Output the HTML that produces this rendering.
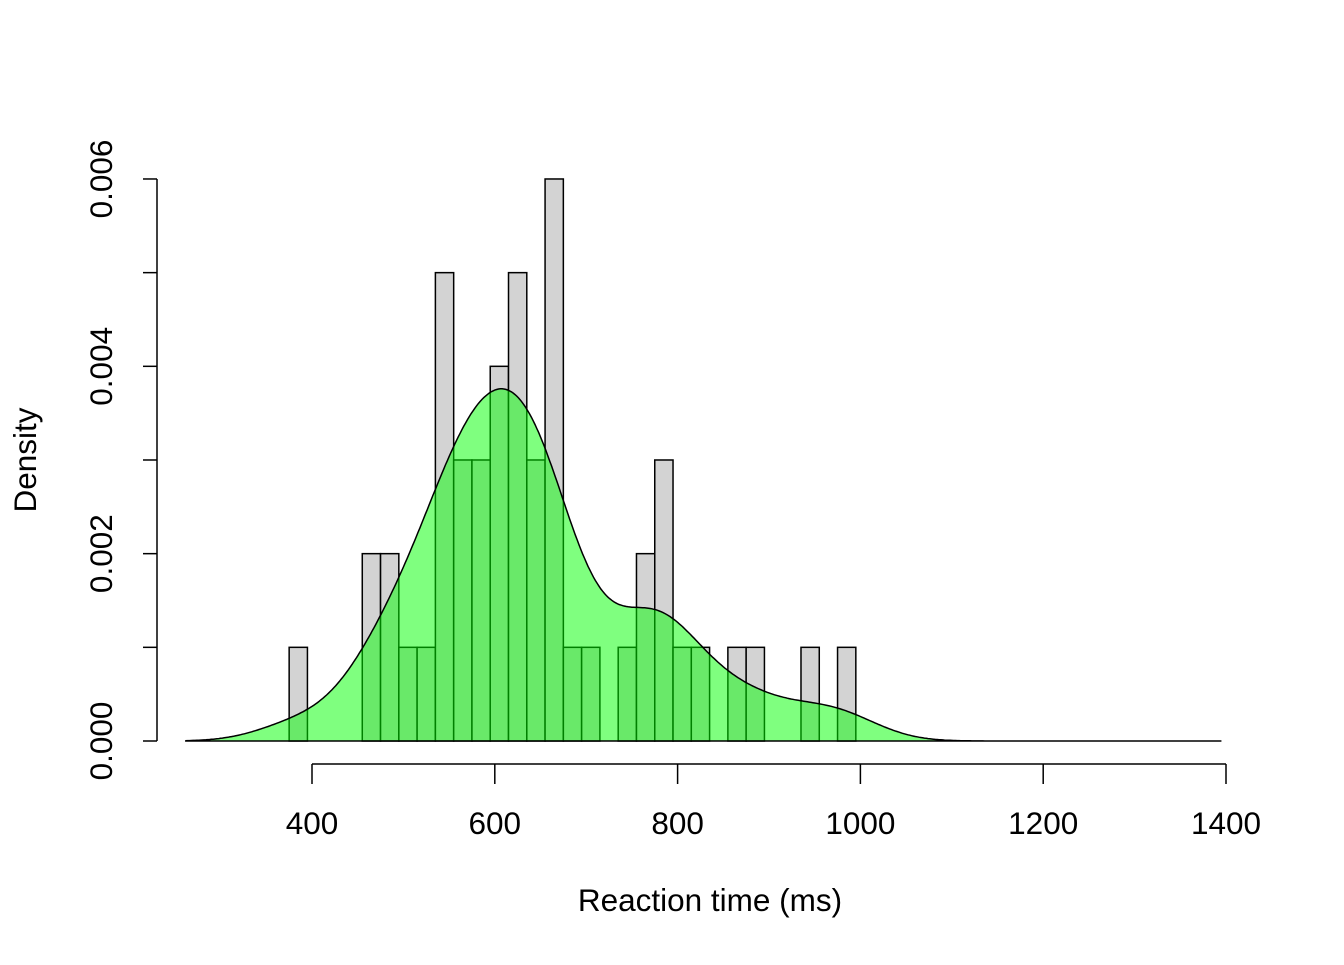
<!DOCTYPE html>
<html><head><meta charset="utf-8"><style>
html,body{margin:0;padding:0;background:#fff;}
svg text{font-family:"Liberation Sans",Arial,sans-serif;font-size:31.5px;fill:#000;}
</style></head><body>
<svg id="s" width="1344" height="960" xmlns="http://www.w3.org/2000/svg">
<g id="bars"></g>
<path id="dens" fill="rgba(0,255,0,0.5)" stroke="#000" stroke-width="1.5"/>
<g stroke="#000" stroke-width="1.5" fill="none">
<line x1="157" y1="179" x2="157" y2="741"/>
<line x1="312" y1="764" x2="1226" y2="764"/>
</g>
<g id="ticks" stroke="#000" stroke-width="1.5"></g>
<g id="labels"></g>
<text x="710" y="911" text-anchor="middle">Reaction time (ms)</text>
<text transform="translate(36,460) rotate(-90)" text-anchor="middle">Density</text>
</svg>
<script>
var X=function(v){return 312+(v-400)*0.914;};
var Y=function(d){return 741-d*93670;};
var counts={375:1,455:2,475:2,495:1,515:1,535:5,555:3,575:3,595:4,615:5,635:3,655:6,675:1,695:1,735:1,755:2,775:3,795:1,815:1,855:1,875:1,935:1,975:1};
var NS="http://www.w3.org/2000/svg",bars=document.getElementById('bars'),data=[];
for(var k in counts){var a=+k,c=counts[k];
 var r=document.createElementNS(NS,'rect');
 r.setAttribute('x',X(a));r.setAttribute('width',X(a+20)-X(a));
 r.setAttribute('y',Y(c*0.001));r.setAttribute('height',Y(0)-Y(c*0.001));
 r.setAttribute('fill','#D3D3D3');r.setAttribute('stroke','#000');r.setAttribute('stroke-width','1.5');
 bars.appendChild(r);
 var off=(a>=575&&a<=675)?-5:(a>=735&&a<=795?-4:0);
 for(var i=0;i<c;i++)data.push(a+(i+0.5)*20/c+off);}
var bw=44,n=data.length,p='M'+X(262)+','+Y(0);
for(var v=262;v<=1395;v+=2){var s=0;for(var j=0;j<n;j++){var z=(v-data[j])/bw;s+=Math.exp(-z*z/2);}
 s/=n*bw*Math.sqrt(2*Math.PI);p+=' L'+X(v).toFixed(1)+','+Y(s).toFixed(1);}
p+=' L'+X(1395)+','+Y(0)+' Z';
document.getElementById('dens').setAttribute('d',p);
var t=document.getElementById('ticks'),L=document.getElementById('labels'),h='',l='';
for(var i=0;i<=6;i++){var y=Y(i*0.001);h+='<line x1="143" y1="'+y+'" x2="157" y2="'+y+'"/>';
 if(i%2==0)l+='<text transform="translate(112,'+y+') rotate(-90)" text-anchor="middle">'+(i*0.001).toFixed(3)+'</text>';}
for(var v=400;v<=1400;v+=200){var x=X(v);h+='<line x1="'+x+'" y1="764" x2="'+x+'" y2="784"/>';
 l+='<text x="'+x+'" y="834" text-anchor="middle">'+v+'</text>';}
t.innerHTML=h;L.innerHTML=l;
</script>
</body></html>
